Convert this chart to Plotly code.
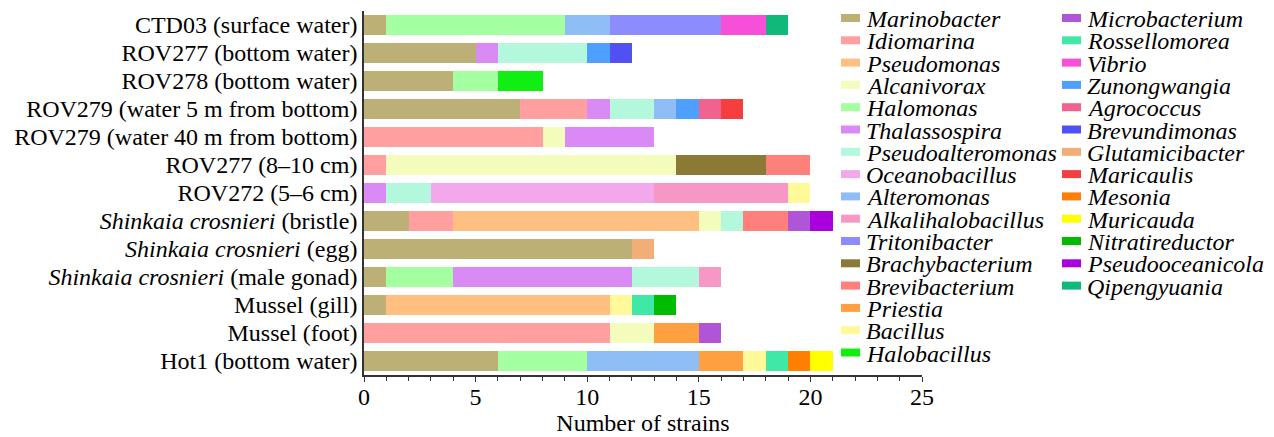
import plotly.graph_objects as go

samples = [
    "CTD03 (surface water)",
    "ROV277 (bottom water)",
    "ROV278 (bottom water)",
    "ROV279 (water 5 m from bottom)",
    "ROV279 (water 40 m from bottom)",
    "ROV277 (8\u201310 cm)",
    "ROV272 (5\u20136 cm)",
    "<i>Shinkaia crosnieri</i> (bristle)",
    "<i>Shinkaia crosnieri</i> (egg)",
    "<i>Shinkaia crosnieri</i> (male gonad)",
    "Mussel (gill)",
    "Mussel (foot)",
    "Hot1 (bottom water)",
]

genera = [
    "Marinobacter", "Idiomarina", "Pseudomonas", "Alcanivorax", "Halomonas",
    "Thalassospira", "Pseudoalteromonas", "Oceanobacillus", "Alteromonas",
    "Alkalihalobacillus", "Tritonibacter", "Brachybacterium", "Brevibacterium",
    "Priestia", "Bacillus", "Halobacillus", "Microbacterium", "Rossellomorea",
    "Vibrio", "Zunongwangia", "Agrococcus", "Brevundimonas", "Glutamicibacter",
    "Maricaulis", "Mesonia", "Muricauda", "Nitratireductor", "Pseudooceanicola",
    "Qipengyuania",
]

# counts per sample (same order as samples)
Marinobacter      = [1, 5, 4, 7, 0, 0, 0, 2, 12, 1, 1, 0, 6]
Idiomarina        = [0, 0, 0, 3, 8, 1, 0, 2, 0, 0, 0, 11, 0]
Pseudomonas       = [0, 0, 0, 0, 0, 0, 0, 11, 0, 0, 10, 0, 0]
Alcanivorax       = [0, 0, 0, 0, 1, 13, 0, 1, 0, 0, 0, 2, 0]
Halomonas         = [8, 0, 2, 0, 0, 0, 0, 0, 0, 3, 0, 0, 4]
Thalassospira     = [0, 1, 0, 1, 4, 0, 1, 0, 0, 8, 0, 0, 0]
Pseudoalteromonas = [0, 4, 0, 2, 0, 0, 2, 1, 0, 3, 0, 0, 0]
Oceanobacillus    = [0, 0, 0, 0, 0, 0, 10, 0, 0, 0, 0, 0, 0]
Alteromonas       = [2, 0, 0, 1, 0, 0, 0, 0, 0, 0, 0, 0, 5]
Alkalihalobacillus= [0, 0, 0, 0, 0, 0, 6, 0, 0, 1, 0, 0, 0]
Tritonibacter     = [5, 0, 0, 0, 0, 0, 0, 0, 0, 0, 0, 0, 0]
Brachybacterium   = [0, 0, 0, 0, 0, 4, 0, 0, 0, 0, 0, 0, 0]
Brevibacterium    = [0, 0, 0, 0, 0, 2, 0, 2, 0, 0, 0, 0, 0]
Priestia          = [0, 0, 0, 0, 0, 0, 0, 0, 0, 0, 0, 2, 2]
Bacillus          = [0, 0, 0, 0, 0, 0, 1, 0, 0, 0, 1, 0, 1]
Halobacillus      = [0, 0, 2, 0, 0, 0, 0, 0, 0, 0, 0, 0, 0]
Microbacterium    = [0, 0, 0, 0, 0, 0, 0, 1, 0, 0, 0, 1, 0]
Rossellomorea     = [0, 0, 0, 0, 0, 0, 0, 0, 0, 0, 1, 0, 1]
Vibrio            = [2, 0, 0, 0, 0, 0, 0, 0, 0, 0, 0, 0, 0]
Zunongwangia      = [0, 1, 0, 1, 0, 0, 0, 0, 0, 0, 0, 0, 0]
Agrococcus        = [0, 0, 0, 1, 0, 0, 0, 0, 0, 0, 0, 0, 0]
Brevundimonas     = [0, 1, 0, 0, 0, 0, 0, 0, 0, 0, 0, 0, 0]
Glutamicibacter   = [0, 0, 0, 0, 0, 0, 0, 0, 1, 0, 0, 0, 0]
Maricaulis        = [0, 0, 0, 1, 0, 0, 0, 0, 0, 0, 0, 0, 0]
Mesonia           = [0, 0, 0, 0, 0, 0, 0, 0, 0, 0, 0, 0, 1]
Muricauda         = [0, 0, 0, 0, 0, 0, 0, 0, 0, 0, 0, 0, 1]
Nitratireductor   = [0, 0, 0, 0, 0, 0, 0, 0, 0, 0, 1, 0, 0]
Pseudooceanicola  = [0, 0, 0, 0, 0, 0, 0, 1, 0, 0, 0, 0, 0]
Qipengyuania      = [1, 0, 0, 0, 0, 0, 0, 0, 0, 0, 0, 0, 0]

values = [
    Marinobacter, Idiomarina, Pseudomonas, Alcanivorax, Halomonas,
    Thalassospira, Pseudoalteromonas, Oceanobacillus, Alteromonas,
    Alkalihalobacillus, Tritonibacter, Brachybacterium, Brevibacterium,
    Priestia, Bacillus, Halobacillus, Microbacterium, Rossellomorea,
    Vibrio, Zunongwangia, Agrococcus, Brevundimonas, Glutamicibacter,
    Maricaulis, Mesonia, Muricauda, Nitratireductor, Pseudooceanicola,
    Qipengyuania,
]

colors = [
    "#BDB076", "#FF9F9F", "#FFBF80", "#F4FCBC", "#A3FFA0",
    "#DA8AF5", "#B3F7DD", "#F4A8EC", "#8FBEF7",
    "#F797C5", "#8C8CFF", "#8A7A36", "#FF7F7A",
    "#FFA040", "#FFF99A", "#11EE11", "#B055D8", "#40E8A8",
    "#F84FD8", "#4F9FFF", "#F2628E", "#5050F5", "#F2AE78",
    "#F53F3F", "#FF7F00", "#FFFF00", "#00BB00", "#AA00DD",
    "#10B87A",
]

FONT = "Liberation Serif, Times New Roman, serif"
OFF = 8  # page body margin
W, H = 1274 - OFF, 437 - OFF
ML, MR, MT, MB = 364 - OFF, 352, 11 - OFF, 62
PW, PH = W - ML - MR, H - MT - MB

fig = go.Figure()
for g, v, c in zip(genera, values, colors):
    fig.add_trace(go.Bar(
        y=samples, x=v, name=g, orientation="h",
        marker=dict(color=c, line=dict(width=0)),
        showlegend=False,
    ))

# two-column legend (column-major), drawn as swatches + italic labels
N_COL1 = 16
ROW0, ROW_STEP = 18, 22.3
COLS = [(841, 860, 866), (1062, 1081, 1087)]  # swatch x0, swatch x1, text x (screen px)
px = lambda p: (p - OFF - ML) / PW
py = lambda p: (H - MB - (p - OFF)) / PH
shapes, annotations = [], []
for i, (g, c) in enumerate(zip(genera, colors)):
    col = 0 if i < N_COL1 else 1
    row = i if i < N_COL1 else i - N_COL1
    sx0, sx1, tx = COLS[col]
    cy = ROW0 + row * ROW_STEP
    shapes.append(dict(type="rect", xref="paper", yref="paper",
                       x0=px(sx0), x1=px(sx1), y0=py(cy + 4), y1=py(cy - 4),
                       fillcolor=c, line=dict(width=0)))
    annotations.append(dict(xref="paper", yref="paper", x=px(tx - 2), y=py(cy + 1),
                            xanchor="left", yanchor="middle", showarrow=False,
                            text=f"<i>{g}</i>", font=dict(size=24, family=FONT)))

fig.update_layout(
    barmode="stack",
    bargap=0.3,
    width=W, height=H,
    margin=dict(l=ML, r=MR, t=MT, b=MB, autoexpand=False),
    plot_bgcolor="white", paper_bgcolor="white",
    font=dict(family=FONT, size=24, color="black"),
    showlegend=False,
    shapes=shapes,
    annotations=annotations,
    xaxis=dict(
        range=[0, 25], dtick=5, ticks="outside", ticklen=5, tickcolor="#333",
        showline=True, linecolor="#333", linewidth=1.5, showgrid=False, zeroline=False,
        minor=dict(dtick=1, ticks="outside", ticklen=4, tickcolor="#333"),
        title=dict(text="Number of strains", font=dict(size=24), standoff=2),
        tickfont=dict(size=24), ticklabelstandoff=-6,
    ),
    yaxis=dict(
        categoryorder="array", categoryarray=samples[::-1],
        tickmode="array", tickvals=samples, ticktext=samples,
        showline=True, linecolor="#333", linewidth=1.5, showgrid=False,
        ticks="", tickfont=dict(size=24), automargin=False,
    ),
)

fig.write_html("out.html")
